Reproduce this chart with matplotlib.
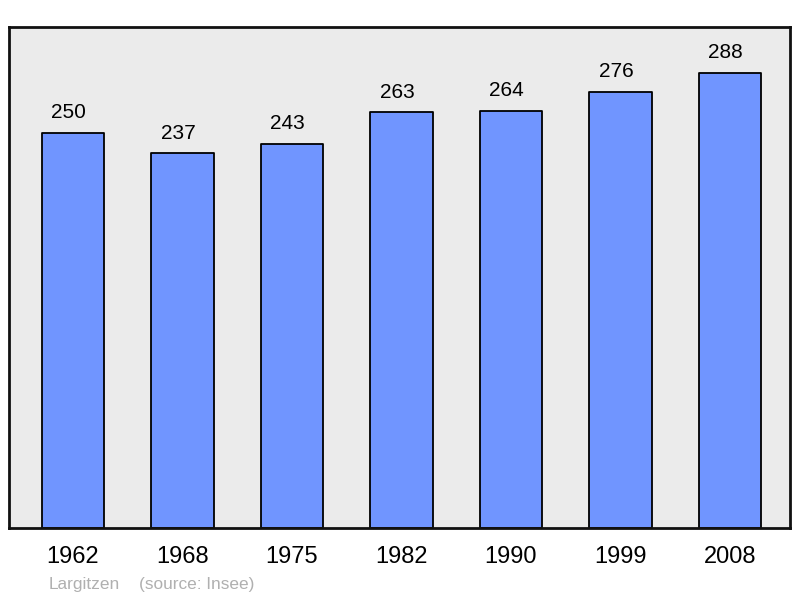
import matplotlib.pyplot as plt

plt.rcParams['font.family'] = ['Liberation Sans', 'DejaVu Sans']

years = ['1962', '1968', '1975', '1982', '1990', '1999', '2008']
population = [250, 237, 243, 263, 264, 276, 288]

fig = plt.figure(figsize=(8, 5.98), dpi=100)
ax = fig.add_axes([9 / 800, 70 / 598, 781 / 800, 501 / 598])
ax.set_facecolor('#ebebeb')

x = range(len(years))
bars = ax.bar(x, population, width=0.57, color='#7095ff', edgecolor='black',
              linewidth=1.3, joinstyle='round', zorder=2)

# labels sit a little left of the bar centre, as in the original
for xi, v in zip(x, population):
    ax.annotate(str(v), (xi, v), xytext=(-3, 10.5), textcoords='offset points',
                ha='center', va='baseline', fontsize=15)

ax.set_xlim(-0.585, 6.55)
ax.set_ylim(0, 317)
ax.set_yticks([])
ax.set_xticks(list(x))
ax.set_xticklabels(years, fontsize=17)
ax.tick_params(axis='x', length=0, pad=13)
for s in ax.spines.values():
    s.set_linewidth(2)
    s.set_color('#111111')

fig.text(49 / 800, 1 - 584 / 598, 'Largitzen', color='#b0b0b0', fontsize=12.4, va='center')
fig.text(139 / 800, 1 - 584 / 598, '(source: Insee)', color='#b0b0b0', fontsize=12.4, va='center')

fig.savefig('out.png', dpi=100)
